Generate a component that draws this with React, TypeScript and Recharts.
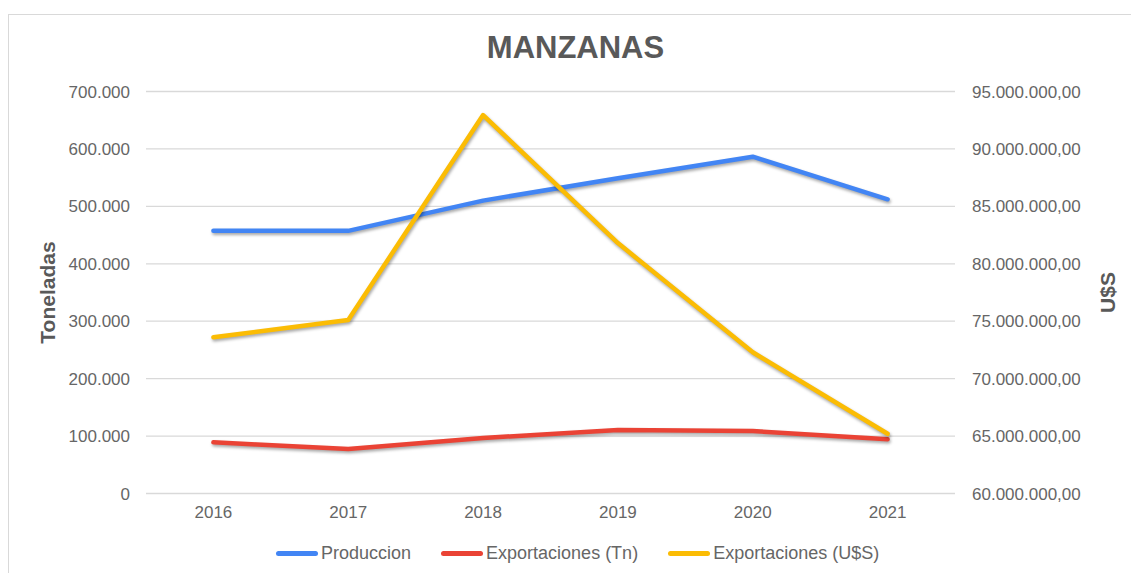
import { LineChart, Line, XAxis, YAxis, CartesianGrid } from "recharts";

const YEARS = ["2016", "2017", "2018", "2019", "2020", "2021"];
const PRODUCCION = [457600, 457400, 510000, 548800, 586500, 512300];
const EXPORT_TN = [89100, 77500, 96600, 110600, 108800, 94400];
const EXPORT_USD = [73600000, 75100000, 92950000, 81800000, 72300000, 65200000];

const LEFT_TICKS = [0, 100000, 200000, 300000, 400000, 500000, 600000, 700000];
const RIGHT_TICKS = [60000000, 65000000, 70000000, 75000000, 80000000, 85000000, 90000000, 95000000];

const SERIES = [
  { key: "produccion", name: "Produccion", color: "#4285F4", axis: "left" },
  { key: "exportTn", name: "Exportaciones (Tn)", color: "#EA4335", axis: "left" },
  { key: "exportUsd", name: "Exportaciones (U$S)", color: "#FBBC04", axis: "right" },
];

const data = YEARS.map((anio, i) => ({
  anio,
  produccion: PRODUCCION[i],
  exportTn: EXPORT_TN[i],
  exportUsd: EXPORT_USD[i],
}));

const FONT = "'Liberation Sans', Arial, sans-serif";
const TEXT = "#666666";

const miles = (v: number) => String(Math.round(v)).replace(/\B(?=(\d{3})+(?!\d))/g, ".");

function AxisTitle({ viewBox, value, posX }: { viewBox?: { y: number; height: number }; value: string; posX: number }) {
  const cy = viewBox ? viewBox.y + viewBox.height / 2 : 292;
  return (
    <text x={posX} y={cy} transform={`rotate(-90 ${posX} ${cy})`} textAnchor="middle" dominantBaseline="central"
      fontFamily={FONT} fontSize={21} fontWeight={700} fill="#595959">
      {value}
    </text>
  );
}

export default function App() {
  return (
    <div style={{ position: "absolute", left: 0, top: 0, width: 1131, height: 573, overflow: "hidden", background: "#fff" }}>
      <style>{`.recharts-line-curve { filter: drop-shadow(1px 2px 1.5px rgba(0,0,0,0.35)); }`}</style>
      <div style={{ position: "absolute", left: 8, top: 14, width: 1200, height: 700, border: "1.5px solid #d9d9d9", boxSizing: "border-box" }} />
      <div style={{ position: "absolute", left: 0, width: 1151, top: 29, textAlign: "center", fontFamily: FONT, fontSize: 31, fontWeight: 700, color: "#595959", lineHeight: "38px" }}>
        MANZANAS
      </div>
      <div style={{ position: "absolute", left: 0, top: 0 }}>
        <LineChart width={1131} height={573} data={data} margin={{ top: 91.5, right: 0, bottom: 49.5, left: 0 }}>
          <CartesianGrid vertical={false} stroke="#d9d9d9" strokeWidth={1.3} yAxisId="left" />
          <XAxis dataKey="anio" axisLine={false} tickLine={false} tickSize={0} tickMargin={12} height={30}
            padding={{ left: 67.4, right: 67.4 }} interval={0}
            tick={{ fontSize: 17, fill: TEXT, fontFamily: FONT }} />
          <YAxis yAxisId="left" domain={[0, 700000]} ticks={LEFT_TICKS} tickFormatter={miles} width={146}
            axisLine={false} tickLine={false} tickSize={0} tickMargin={16} interval={0}
            tick={{ fontSize: 17, fill: TEXT, fontFamily: FONT }}
            label={<AxisTitle value="Toneladas" posX={47} />} />
          <YAxis yAxisId="right" orientation="right" domain={[60000000, 95000000]} ticks={RIGHT_TICKS}
            tickFormatter={(v: number) => miles(v) + ",00"} width={176}
            axisLine={false} tickLine={false} tickSize={0} tickMargin={17} interval={0}
            tick={{ fontSize: 17, fill: TEXT, fontFamily: FONT, textAnchor: "start" }}
            label={<AxisTitle value="U$S" posX={1107} />} />
          {SERIES.map(s => (
            <Line key={s.key} yAxisId={s.axis} type="linear" dataKey={s.key} name={s.name} stroke={s.color}
              strokeWidth={4.5} dot={false} activeDot={false} isAnimationActive={false}
              strokeLinecap="round" strokeLinejoin="round" />
          ))}
        </LineChart>
      </div>
      <div style={{ position: "absolute", left: 276, top: 542, display: "flex", alignItems: "center", fontFamily: FONT, fontSize: 18, color: TEXT, lineHeight: "22px" }}>
        {SERIES.map((s, i) => (
          <div key={s.key} style={{ display: "flex", alignItems: "center", marginRight: i < SERIES.length - 1 ? 30 : 0 }}>
            <span style={{ display: "inline-block", width: 42, height: 5, borderRadius: 3, background: s.color, marginRight: 3 }} />
            <span>{s.name}</span>
          </div>
        ))}
      </div>
    </div>
  );
}
